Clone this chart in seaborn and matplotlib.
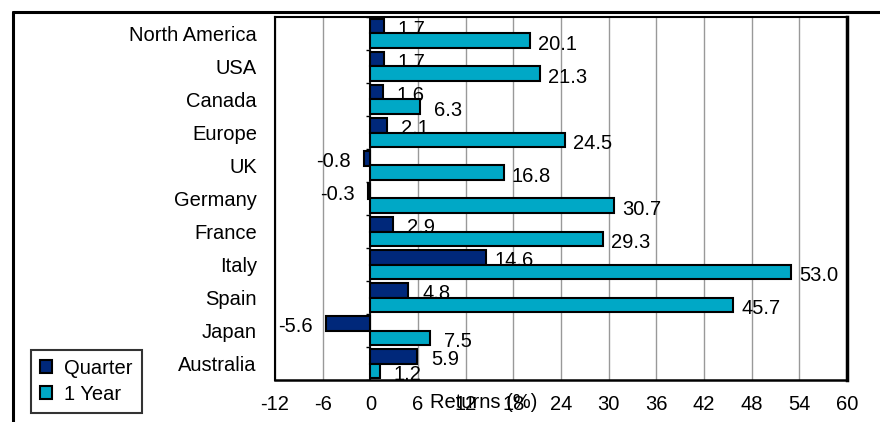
import numpy as np
import pandas as pd
import seaborn as sns
import matplotlib.pyplot as plt
from matplotlib.lines import Line2D
from matplotlib.patches import Patch

regions = ["North America", "USA", "Canada", "Europe", "UK", "Germany",
           "France", "Italy", "Spain", "Japan", "Australia"]
quarter = [1.7, 1.7, 1.6, 2.1, -0.8, -0.3, 2.9, 14.6, 4.8, -5.6, 5.9]
one_year = [20.1, 21.3, 6.3, 24.5, 16.8, 30.7, 29.3, 53.0, 45.7, 7.5, 1.2]
series = ["Quarter", "1 Year"]
colors = ["#00287A", "#00A8C6"]
xticks = list(range(-12, 61, 6))

df = pd.DataFrame({
    "Region": regions * 2,
    "Return": quarter + one_year,
    "Series": [series[0]] * len(regions) + [series[1]] * len(regions),
})

sns.set_style("white")
plt.rcParams["font.family"] = ["Liberation Sans", "DejaVu Sans"]
plt.rcParams["font.size"] = 14.5
plt.rcParams["axes.unicode_minus"] = False
for k in ["text.color", "axes.labelcolor", "xtick.color", "ytick.color"]:
    plt.rcParams[k] = "black"

fs = 14.5
fig = plt.figure(figsize=(8.8, 4.22), dpi=100)
ax = fig.add_axes([275 / 880, 1 - 380 / 422, 572 / 880, 363 / 422])

sns.barplot(data=df, y="Region", x="Return", hue="Series", order=regions,
            hue_order=series, palette=colors, orient="h", width=0.9,
            saturation=1, errorbar=None, edgecolor="black", linewidth=1.5, ax=ax)

for p in ax.patches:
    p.set_zorder(2)

# value labels, centred a bit past the bar end, tucked under the bars
for cont in ax.containers:
    for bar in cont:
        w = bar.get_width()
        y = bar.get_y() + bar.get_height() / 2
        ax.annotate(f"{w:.1f}", (w, y), xytext=(20 if w >= 0 else -22, -2.5),
                    textcoords="offset points", ha="center", va="center",
                    fontsize=fs, color="black", zorder=1.5)

# zero line with small category ticks
ax.axvline(0, color="black", lw=1.2, zorder=1.8)
ax.hlines(np.arange(len(regions) + 1) - 0.5, -0.6, 0, color="black", lw=1, zorder=1.8)

ax.set_xlim(-12, 60)
ax.set_ylim(len(regions) - 0.5, -0.5)
ax.set_xticks(xticks)
ax.set_axisbelow(True)
ax.xaxis.grid(True, color="#999999", lw=1)
ax.yaxis.grid(False)
ax.tick_params(axis="x", length=0, pad=11, labelsize=fs)
ax.tick_params(axis="y", length=0, pad=13, labelsize=fs)
ax.set_ylabel("")
ax.set_xlabel("Returns (%)", fontsize=fs)
ax.xaxis.set_label_coords(0.365, -0.036)

for side, lw in [("left", 1.5), ("bottom", 1.8), ("right", 2.5), ("top", 1.5)]:
    ax.spines[side].set_color("black")
    ax.spines[side].set_linewidth(lw)

ax.get_legend().remove()
handles = [Patch(facecolor=c, edgecolor="black", lw=1.5) for c in colors]
leg = fig.legend(handles, series, loc="lower left", bbox_to_anchor=(31 / 880, 9 / 422),
                 frameon=True, fancybox=False, edgecolor="black", fontsize=fs,
                 handlelength=0.6, handleheight=0.6, handletextpad=0.6,
                 borderpad=0.45, labelspacing=0.35, borderaxespad=0)
leg.get_frame().set_linewidth(1.5)

# outer frame (top and left edges)
fig.add_artist(Line2D([13 / 880, 13 / 880], [0, 1 - 12 / 422], transform=fig.transFigure,
                      color="black", lw=2.2))
fig.add_artist(Line2D([13 / 880, 1], [1 - 12 / 422, 1 - 12 / 422], transform=fig.transFigure,
                      color="black", lw=2.2))

fig.savefig("out.png", dpi=100)
